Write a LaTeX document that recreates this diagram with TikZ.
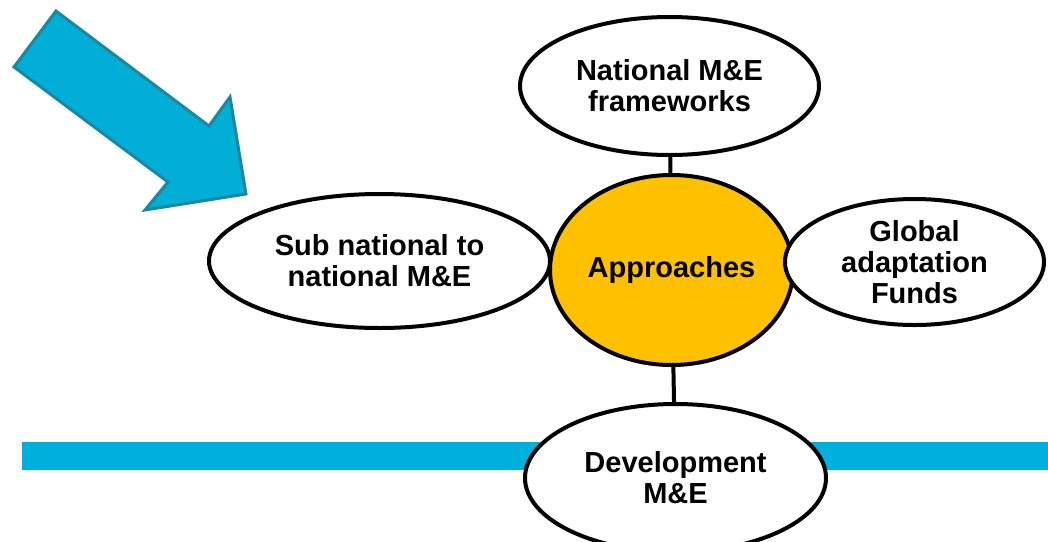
\documentclass[tikz,border=0pt]{standalone}
\usepackage{fontspec}
\setmainfont{Liberation Sans}
\usetikzlibrary{shapes.geometric}
\definecolor{arrowfill}{HTML}{00AED6}
\definecolor{arrowline}{HTML}{1A87A3}
\definecolor{barblue}{HTML}{00B0DC}
\definecolor{gold}{HTML}{FFC000}
\begin{document}
\begin{tikzpicture}[x=1pt,y=-1pt,
  oval/.style={ellipse, draw=black, line width=4pt, fill=white, inner sep=0pt, align=center,
    font=\fontsize{29}{31}\selectfont\bfseries},
  link/.style={draw=black, line width=4pt},
  bigarrow/.style={draw=arrowline, fill=arrowfill, line width=3pt, line join=miter}]
\useasboundingbox (0,0) rectangle (1048,541);
\clip (0,0) rectangle (1048,541);
% horizontal bar
\fill[barblue] (22,442) rectangle (1048,470);
% big arrow
\draw[bigarrow] (56,11) -- (209,126) -- (230,97) -- (246,194) -- (145,210) -- (168,182) -- (14,67) -- cycle;
% nodes
\node[oval, fill=gold, minimum width=243pt, minimum height=190pt] (ctr) at (671.5,270) {Approaches};
\node[oval, minimum width=341pt, minimum height=134pt] (left) at (379.5,261) {Sub national to\\national M\&E};
\node[oval, minimum width=259pt, minimum height=126pt] (right) at (914.5,262) {Global\\adaptation\\Funds};
\node[oval, minimum width=299pt, minimum height=138pt] (top) at (669.5,86) {National M\&E\\frameworks};
\node[oval, minimum width=301pt, minimum height=148pt] (bot) at (675.5,478) {Development\\M\&E};
% connectors
\draw[link] (top) -- (ctr);
\draw[link] (ctr) -- (bot);
\end{tikzpicture}
\end{document}
